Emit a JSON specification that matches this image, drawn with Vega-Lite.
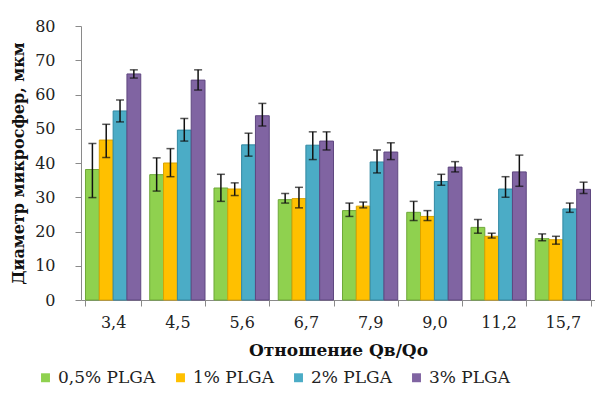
{
  "$schema": "https://vega.github.io/schema/vega-lite/v6.json",
  "width": 595,
  "height": 398,
  "autosize": {"type": "fit", "contains": "padding"},
  "padding": {"left": 10, "top": 18, "right": 0, "bottom": 40},
  "background": "white",
  "config": {
    "font": "DejaVu Serif",
    "view": {"stroke": null},
    "axis": {"grid": false, "domainColor": "#8a8a8a", "tickColor": "#8a8a8a", "labelColor": "#222", "titleColor": "#111", "labelFont": "DejaVu Serif", "titleFont": "DejaVu Serif"},
    "legend": {"labelFont": "DejaVu Serif", "labelColor": "#222"}
  },
  "data": {
    "values": [
      {"ratio": "3,4", "series": "0,5% PLGA", "value": 38.1, "lo": 29.9, "hi": 45.7},
      {"ratio": "3,4", "series": "1% PLGA", "value": 46.7, "lo": 41.6, "hi": 51.3},
      {"ratio": "3,4", "series": "2% PLGA", "value": 55.2, "lo": 52.0, "hi": 58.4},
      {"ratio": "3,4", "series": "3% PLGA", "value": 66.0, "lo": 64.8, "hi": 67.2},
      {"ratio": "4,5", "series": "0,5% PLGA", "value": 36.6, "lo": 31.8, "hi": 41.5},
      {"ratio": "4,5", "series": "1% PLGA", "value": 40.0, "lo": 36.0, "hi": 44.2},
      {"ratio": "4,5", "series": "2% PLGA", "value": 49.6, "lo": 46.4, "hi": 53.0},
      {"ratio": "4,5", "series": "3% PLGA", "value": 64.2, "lo": 61.3, "hi": 67.2},
      {"ratio": "5,6", "series": "0,5% PLGA", "value": 32.7, "lo": 28.8, "hi": 36.7},
      {"ratio": "5,6", "series": "1% PLGA", "value": 32.4, "lo": 30.5, "hi": 34.2},
      {"ratio": "5,6", "series": "2% PLGA", "value": 45.3, "lo": 42.0, "hi": 48.7},
      {"ratio": "5,6", "series": "3% PLGA", "value": 53.8, "lo": 50.8, "hi": 57.4},
      {"ratio": "6,7", "series": "0,5% PLGA", "value": 29.3, "lo": 28.3, "hi": 31.1},
      {"ratio": "6,7", "series": "1% PLGA", "value": 29.6, "lo": 26.9, "hi": 32.9},
      {"ratio": "6,7", "series": "2% PLGA", "value": 45.2, "lo": 41.0, "hi": 49.1},
      {"ratio": "6,7", "series": "3% PLGA", "value": 46.4, "lo": 43.8, "hi": 49.1},
      {"ratio": "7,9", "series": "0,5% PLGA", "value": 26.1, "lo": 24.4, "hi": 28.3},
      {"ratio": "7,9", "series": "1% PLGA", "value": 27.4, "lo": 26.9, "hi": 28.6},
      {"ratio": "7,9", "series": "2% PLGA", "value": 40.3, "lo": 37.1, "hi": 43.8},
      {"ratio": "7,9", "series": "3% PLGA", "value": 43.2, "lo": 41.0, "hi": 45.9},
      {"ratio": "9,0", "series": "0,5% PLGA", "value": 25.6, "lo": 23.2, "hi": 28.8},
      {"ratio": "9,0", "series": "1% PLGA", "value": 24.4, "lo": 23.2, "hi": 26.1},
      {"ratio": "9,0", "series": "2% PLGA", "value": 34.6, "lo": 33.5, "hi": 36.7},
      {"ratio": "9,0", "series": "3% PLGA", "value": 38.8, "lo": 37.4, "hi": 40.4},
      {"ratio": "11,2", "series": "0,5% PLGA", "value": 21.2, "lo": 19.5, "hi": 23.5},
      {"ratio": "11,2", "series": "1% PLGA", "value": 18.6, "lo": 18.1, "hi": 19.5},
      {"ratio": "11,2", "series": "2% PLGA", "value": 32.4, "lo": 30.0, "hi": 36.0},
      {"ratio": "11,2", "series": "3% PLGA", "value": 37.4, "lo": 33.2, "hi": 42.3},
      {"ratio": "15,7", "series": "0,5% PLGA", "value": 17.9, "lo": 17.3, "hi": 19.3},
      {"ratio": "15,7", "series": "1% PLGA", "value": 17.6, "lo": 16.3, "hi": 18.6},
      {"ratio": "15,7", "series": "2% PLGA", "value": 26.6, "lo": 25.6, "hi": 28.3},
      {"ratio": "15,7", "series": "3% PLGA", "value": 32.3, "lo": 31.1, "hi": 34.4}
    ]
  },
  "encoding": {
    "x": {
      "field": "ratio", "type": "nominal", "sort": null,
      "scale": {"paddingInner": 0.14, "paddingOuter": 0.07},
      "axis": {"title": "Отношение  Qв/Qo", "labelAngle": 0, "labelFontSize": 16, "titleFontSize": 17, "titleFontWeight": "bold", "tickBand": "extent", "tickSize": 6, "labelPadding": 8, "titlePadding": 12}
    },
    "xOffset": {"field": "series", "type": "nominal", "sort": ["0,5% PLGA", "1% PLGA", "2% PLGA", "3% PLGA"], "scale": {"paddingInner": 0, "paddingOuter": 0}}
  },
  "layer": [
    {
      "mark": {"type": "bar", "strokeWidth": 1},
      "encoding": {
        "y": {"field": "value", "type": "quantitative", "scale": {"domain": [0, 80]},
          "axis": {"title": "Диаметр микросфер, мкм", "values": [0, 10, 20, 30, 40, 50, 60, 70, 80], "labelOverlap": false, "labelFontSize": 16, "titleFontSize": 16, "titleFontWeight": "bold", "tickSize": 6, "labelPadding": 20, "titlePadding": 8}},
        "fill": {"field": "series", "type": "nominal", "sort": ["0,5% PLGA", "1% PLGA", "2% PLGA", "3% PLGA"],
          "scale": {"range": ["#8fd14f", "#ffc000", "#4bacc6", "#8064a2"]},
          "legend": {"title": null, "orient": "none", "legendX": -44, "legendY": 343, "direction": "horizontal", "symbolType": "square", "symbolSize": 80, "labelFontSize": 17, "columnPadding": 16, "symbolStrokeWidth": 0}},
        "stroke": {"field": "series", "type": "nominal", "sort": ["0,5% PLGA", "1% PLGA", "2% PLGA", "3% PLGA"],
          "scale": {"range": ["#6ea838", "#d9a300", "#3289a3", "#5f4780"]}, "legend": null}
      }
    },
    {
      "mark": {"type": "rule", "color": "#111", "strokeWidth": 1.5},
      "encoding": {"y": {"field": "lo", "type": "quantitative",
          "axis": {"title": "Диаметр микросфер, мкм", "values": [0, 10, 20, 30, 40, 50, 60, 70, 80], "labelOverlap": false, "labelFontSize": 16, "titleFontSize": 16, "titleFontWeight": "bold", "tickSize": 6, "labelPadding": 20, "titlePadding": 8}}, "y2": {"field": "hi"}}
    },
    {
      "mark": {"type": "tick", "color": "#111", "thickness": 1.5, "size": 8},
      "encoding": {"y": {"field": "lo", "type": "quantitative",
          "axis": {"title": "Диаметр микросфер, мкм", "values": [0, 10, 20, 30, 40, 50, 60, 70, 80], "labelOverlap": false, "labelFontSize": 16, "titleFontSize": 16, "titleFontWeight": "bold", "tickSize": 6, "labelPadding": 20, "titlePadding": 8}}}
    },
    {
      "mark": {"type": "tick", "color": "#111", "thickness": 1.5, "size": 8},
      "encoding": {"y": {"field": "hi", "type": "quantitative",
          "axis": {"title": "Диаметр микросфер, мкм", "values": [0, 10, 20, 30, 40, 50, 60, 70, 80], "labelOverlap": false, "labelFontSize": 16, "titleFontSize": 16, "titleFontWeight": "bold", "tickSize": 6, "labelPadding": 20, "titlePadding": 8}}}
    }
  ]
}
